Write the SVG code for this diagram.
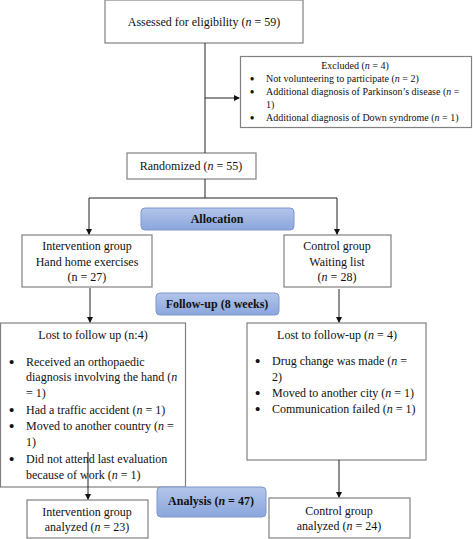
<svg xmlns="http://www.w3.org/2000/svg" width="474" height="539" viewBox="0 0 474 539">
<style>
.box{fill:#fff;stroke:#808080;stroke-width:1.2}
.stage{stroke:#7d98d0;stroke-width:1}
.t{font-family:"Liberation Serif","Times New Roman",Times,serif;font-size:12px;fill:#111}
.s{font-size:10px}
.b{font-weight:bold;font-size:12px}
.c{text-anchor:middle}
.bu{font-size:15px;font-weight:bold}
.bs{font-size:12px;font-weight:bold}
.con{stroke:#222;stroke-width:1;fill:none}
</style>
<defs>
<linearGradient id="g" x1="0" y1="0" x2="0" y2="1">
<stop offset="0" stop-color="#b3c5ea"/>
<stop offset="1" stop-color="#8aa6dc"/>
</linearGradient>
<marker id="a" markerWidth="6" markerHeight="6" refX="5" refY="3" orient="auto" markerUnits="userSpaceOnUse">
<path d="M0,0 L6,3 L0,6 z" fill="#111"/>
</marker>
</defs>
<g id="assessed">
<rect class="box" x="105" y="0" width="198" height="43"/>
<text class="t c" x="204" y="26">Assessed for eligibility (<tspan font-style="italic">n</tspan> = 59)</text>
</g>
<g id="excluded">
<rect class="box" x="240.5" y="56.5" width="231" height="71"/>
<text class="t s c" x="355" y="69">Excluded (<tspan font-style="italic">n</tspan> = 4)</text>
<g class="t s">
<text class="bs" x="250" y="83">•</text><text x="266" y="82">Not volunteering to participate (<tspan font-style="italic">n</tspan> = 2)</text>
<text class="bs" x="250" y="96">•</text><text x="266" y="95">Additional diagnosis of Parkinson’s disease (<tspan font-style="italic">n</tspan> =</text>
<text x="266" y="108">1)</text>
<text class="bs" x="250" y="122">•</text><text x="266" y="121">Additional diagnosis of Down syndrome (<tspan font-style="italic">n</tspan> = 1)</text>
</g>
</g>
<g id="randomized">
<rect class="box" x="127" y="153" width="129" height="26"/>
<text class="t c" x="191" y="170">Randomized (<tspan font-style="italic">n</tspan> = 55)</text>
</g>
<g id="allocation">
<rect class="stage" x="141" y="208" width="153" height="22" rx="4" fill="url(#g)"/>
<text class="t b c" x="217" y="223">Allocation</text>
</g>
<g id="intervention">
<rect class="box" x="22" y="235" width="130" height="52"/>
<text class="t c" x="87" y="250">Intervention group</text>
<text class="t c" x="87" y="266">Hand home exercises</text>
<text class="t c" x="87" y="281">(n = 27)</text>
</g>
<g id="control">
<rect class="box" x="284" y="235" width="107" height="52"/>
<text class="t c" x="337" y="250">Control group</text>
<text class="t c" x="337" y="266">Waiting list</text>
<text class="t c" x="337" y="281">(<tspan font-style="italic">n</tspan> = 28)</text>
</g>
<g id="followup">
<rect class="stage" x="156" y="293" width="123" height="22" rx="4" fill="url(#g)"/>
<text class="t b c" x="217" y="308">Follow-up (8 weeks)</text>
</g>
<g id="lost-left">
<rect class="box" x="0.5" y="323" width="185" height="164"/>
<text class="t c" x="93" y="339">Lost to follow up (n:4)</text>
<g class="t">
<text class="bu" x="9" y="367">•</text><text x="26" y="366">Received an orthopaedic</text>
<text x="26" y="381">diagnosis involving the hand (<tspan font-style="italic">n</tspan></text>
<text x="26" y="397">= 1)</text>
<text class="bu" x="9" y="415">•</text><text x="26" y="414">Had a traffic accident (<tspan font-style="italic">n</tspan> = 1)</text>
<text class="bu" x="9" y="431">•</text><text x="26" y="430">Moved to another country (<tspan font-style="italic">n</tspan> =</text>
<text x="26" y="446">1)</text>
<text class="bu" x="9" y="464">•</text><text x="26" y="463">Did not attend last evaluation</text>
<text x="26" y="479">because of work (<tspan font-style="italic">n</tspan> = 1)</text>
</g>
</g>
<g id="lost-right">
<rect class="box" x="247" y="323" width="179" height="137"/>
<text class="t c" x="337" y="339">Lost to follow-up (<tspan font-style="italic">n</tspan> = 4)</text>
<g class="t">
<text class="bu" x="255" y="366">•</text><text x="272" y="365">Drug change was made (<tspan font-style="italic">n</tspan> =</text>
<text x="272" y="381">2)</text>
<text class="bu" x="255" y="398">•</text><text x="272" y="397">Moved to another city (<tspan font-style="italic">n</tspan> = 1)</text>
<text class="bu" x="255" y="414">•</text><text x="272" y="413">Communication failed (<tspan font-style="italic">n</tspan> = 1)</text>
</g>
</g>
<g id="analysis">
<rect class="stage" x="157" y="487" width="109" height="30" rx="4" fill="url(#g)"/>
<text class="t b c" x="211" y="505">Analysis (<tspan font-style="italic">n</tspan> = 47)</text>
</g>
<g id="intervention-analyzed">
<rect class="box" x="27" y="500" width="121" height="38"/>
<text class="t c" x="87" y="516">Intervention group</text>
<text class="t c" x="87" y="531">analyzed (<tspan font-style="italic">n</tspan> = 23)</text>
</g>
<g id="control-analyzed">
<rect class="box" x="269" y="498" width="141" height="40"/>
<text class="t c" x="339" y="515">Control group</text>
<text class="t c" x="339" y="530">analyzed (<tspan font-style="italic">n</tspan> = 24)</text>
</g>
<g id="connectors">
<path class="con" d="M205,43 V153"/>
<path class="con" d="M205,98 H239" marker-end="url(#a)"/>
<path class="con" d="M205,179 V198"/>
<path class="con" d="M89,198 H337"/>
<path class="con" d="M89,198 V234" marker-end="url(#a)"/>
<path class="con" d="M337,198 V234" marker-end="url(#a)"/>
<path class="con" d="M90,288 V322" marker-end="url(#a)"/>
<path class="con" d="M339,289 V322" marker-end="url(#a)"/>
<path class="con" d="M88,452 V499" marker-end="url(#a)"/>
<path class="con" d="M339,460 V497" marker-end="url(#a)"/>
</g>
</svg>
